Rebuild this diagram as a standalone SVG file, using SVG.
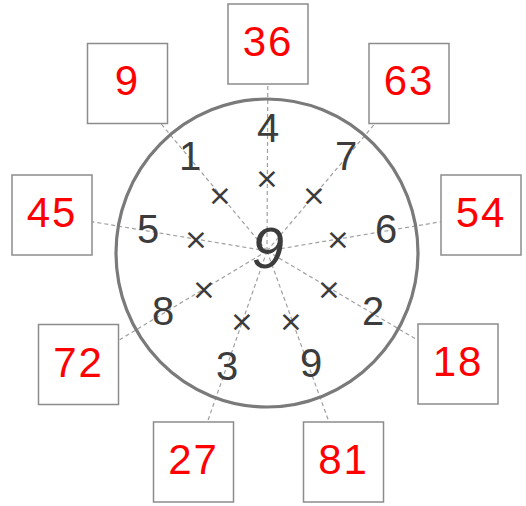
<svg xmlns="http://www.w3.org/2000/svg" width="526" height="506" viewBox="0 0 526 506">
<style>
.spoke{stroke:#a0a0a0;stroke-width:1.2;stroke-dasharray:4 3;fill:none}
.box{fill:#fff;stroke:#8c8c8c;stroke-width:1.5}
.red{fill:#ff0000;font-family:"Liberation Sans",Arial,sans-serif;font-size:42px;text-anchor:middle;letter-spacing:2px}
.dig{fill:#3c3c3c;font-family:"Liberation Sans",Arial,sans-serif;font-size:40px;text-anchor:middle}
.big{fill:#3c3c3c;font-family:"Liberation Sans",Arial,sans-serif;font-size:58px;font-style:italic;text-anchor:middle}
.x{fill:#3c3c3c;font-family:"DejaVu Sans",sans-serif;font-size:29px;text-anchor:middle;dominant-baseline:central}
</style>
<rect width="526" height="506" fill="#fff"/>
<g id="connectors">
<line class="spoke" x1="267" y1="251" x2="268" y2="44"/>
<line class="spoke" x1="267" y1="251" x2="127.5" y2="83.5"/>
<line class="spoke" x1="267" y1="251" x2="409" y2="83.5"/>
<line class="spoke" x1="267" y1="251" x2="52" y2="215"/>
<line class="spoke" x1="267" y1="251" x2="481" y2="215"/>
<line class="spoke" x1="267" y1="251" x2="78.5" y2="364.5"/>
<line class="spoke" x1="267" y1="251" x2="458" y2="364"/>
<line class="spoke" x1="267" y1="251" x2="193.5" y2="462"/>
<line class="spoke" x1="267" y1="251" x2="343.5" y2="462"/>
</g>
<g id="wheel">
<ellipse cx="267" cy="253" rx="151" ry="154" fill="none" stroke="#7a7a7a" stroke-width="3.2"/>
</g>
<g id="center"><text class="big" x="268" y="268">9</text></g>
<g id="inner">
<text class="dig" x="268" y="142">4</text>
<text class="dig" x="190" y="170">1</text>
<text class="dig" x="346" y="170">7</text>
<text class="dig" x="148" y="243">5</text>
<text class="dig" x="386" y="243">6</text>
<text class="dig" x="163" y="325">8</text>
<text class="dig" x="373" y="325">2</text>
<text class="dig" x="227" y="380">3</text>
<text class="dig" x="311" y="377">9</text>
</g>
<g id="times">
<text class="x" x="267" y="178">×</text>
<text class="x" x="220" y="195">×</text>
<text class="x" x="314" y="195">×</text>
<text class="x" x="196" y="239">×</text>
<text class="x" x="338" y="239">×</text>
<text class="x" x="204" y="289">×</text>
<text class="x" x="329" y="289">×</text>
<text class="x" x="242" y="321">×</text>
<text class="x" x="291" y="321">×</text>
</g>
<g id="box36"><rect class="box" x="228" y="4" width="80" height="80"/><text class="red" x="268" y="56">36</text></g>
<g id="box9"><rect class="box" x="87.5" y="43.5" width="80" height="80"/><text class="red" x="127.5" y="95">9</text></g>
<g id="box63"><rect class="box" x="369" y="43.5" width="80" height="80"/><text class="red" x="409" y="95">63</text></g>
<g id="box45"><rect class="box" x="12" y="175" width="80" height="80"/><text class="red" x="52" y="227">45</text></g>
<g id="box54"><rect class="box" x="441" y="175" width="80" height="80"/><text class="red" x="481" y="227">54</text></g>
<g id="box72"><rect class="box" x="38.5" y="324.5" width="80" height="80"/><text class="red" x="78.5" y="376.5">72</text></g>
<g id="box18"><rect class="box" x="418" y="324" width="80" height="80"/><text class="red" x="458" y="376">18</text></g>
<g id="box27"><rect class="box" x="153.5" y="422" width="80" height="80"/><text class="red" x="193.5" y="474">27</text></g>
<g id="box81"><rect class="box" x="303.5" y="422" width="80" height="80"/><text class="red" x="343.5" y="474">81</text></g>
</svg>
